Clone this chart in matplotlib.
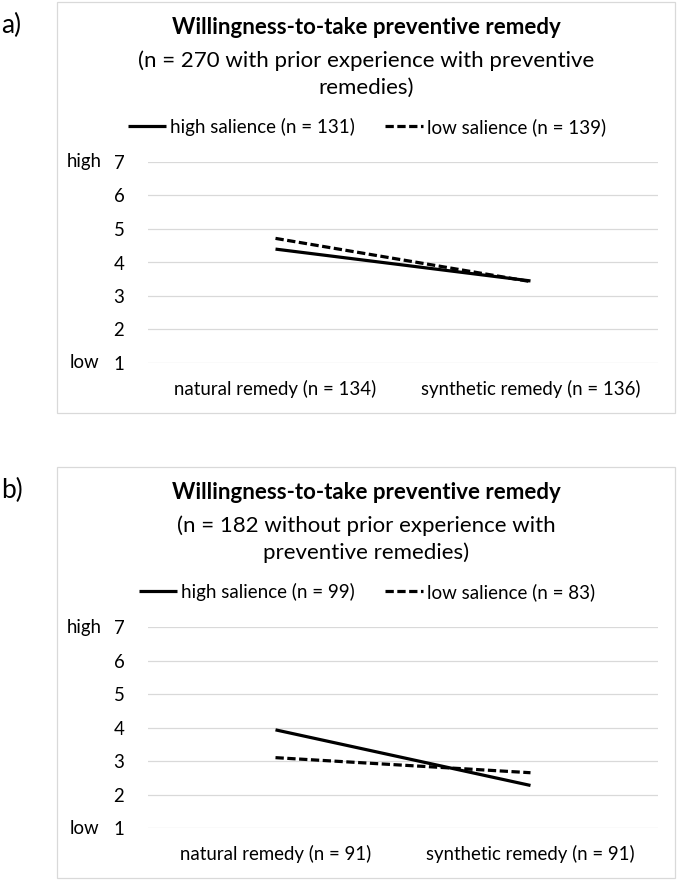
import matplotlib
matplotlib.use("Agg")
import matplotlib.pyplot as plt
import matplotlib.transforms as mtransforms
from matplotlib.patches import Rectangle

plt.rcParams['font.family'] = ['Lato', 'DejaVu Sans']

W, H = 677, 880

# data
title = "Willingness-to-take preventive remedy"
a_subtitle = "(n = 270 with prior experience with preventive\nremedies)"
a_categories = ["natural remedy (n = 134)", "synthetic remedy (n = 136)"]
a_high = [4.40, 3.45]
a_low = [4.72, 3.43]
a_legend = ["high salience (n = 131)", "low salience (n = 139)"]

b_subtitle = "(n = 182 without prior experience with\npreventive remedies)"
b_categories = ["natural remedy (n = 91)", "synthetic remedy (n = 91)"]
b_high = [3.93, 2.27]
b_low = [3.10, 2.65]
b_legend = ["high salience (n = 99)", "low salience (n = 83)"]

y_ticks = [1, 2, 3, 4, 5, 6, 7]


def fx(px):
    return px / W


def fy(py):
    return 1 - py / H


fig = plt.figure(figsize=(W / 100, H / 100), dpi=100)


def panel(letter, top, subtitle, categories, high, low, legend_labels):
    # outer frame of the panel
    fig.patches.append(Rectangle((fx(57), fy(top + 411)), fx(675) - fx(57), 411 / H,
                                 transform=fig.transFigure, fill=False,
                                 edgecolor='#d9d9d9', lw=0.9))
    fig.text(fx(1), fy(top + 23), letter, fontsize=19, ha='left', va='center')
    fig.text(fx(366), fy(top + 25), title, fontsize=16, fontweight='bold',
             ha='center', va='center')
    fig.text(fx(366), fy(top + 72), subtitle, fontsize=16, ha='center',
             va='center', linespacing=1.42)

    y_top, y_bot = top + 160, top + 361
    ax = fig.add_axes([fx(148), fy(y_bot), fx(658) - fx(148), (y_bot - y_top) / H])
    x = [0.5, 1.5]
    ax.plot(x, high, color='black', lw=2.3, solid_capstyle='butt', label=legend_labels[0])
    ax.plot(x, low, color='black', lw=2.3, linestyle=(0, (2.6, 1.1)),
            dash_capstyle='butt', label=legend_labels[1])
    ax.set_xlim(0, 2)
    ax.set_ylim(1, 7)
    ax.set_yticks(y_ticks)
    ax.set_xticks(x)
    ax.set_xticklabels(categories, fontsize=13.4)
    ax.tick_params(axis='y', labelsize=13.4, length=0, pad=17)
    ax.tick_params(axis='x', length=0, pad=12)
    ax.grid(axis='y', color='#d9d9d9', lw=0.9)
    ax.set_axisbelow(True)
    for s in ax.spines.values():
        s.set_visible(False)

    tr = mtransforms.blended_transform_factory(fig.transFigure, ax.transData)
    ax.text(fx(84), 7, "high", transform=tr, fontsize=13.4, ha='center', va='center')
    ax.text(fx(84), 1, "low", transform=tr, fontsize=13.4, ha='center', va='center')

    fig.legend(*ax.get_legend_handles_labels(), loc='center',
               bbox_to_anchor=(fx(367), fy(top + 125)), ncol=2, frameon=False,
               fontsize=13.5, handlelength=2.0, handletextpad=0.2,
               columnspacing=1.65)
    return ax


panel("a)", 2, a_subtitle, a_categories, a_high, a_low, a_legend)
panel("b)", 467, b_subtitle, b_categories, b_high, b_low, b_legend)

fig.savefig("out.png", dpi=100)
